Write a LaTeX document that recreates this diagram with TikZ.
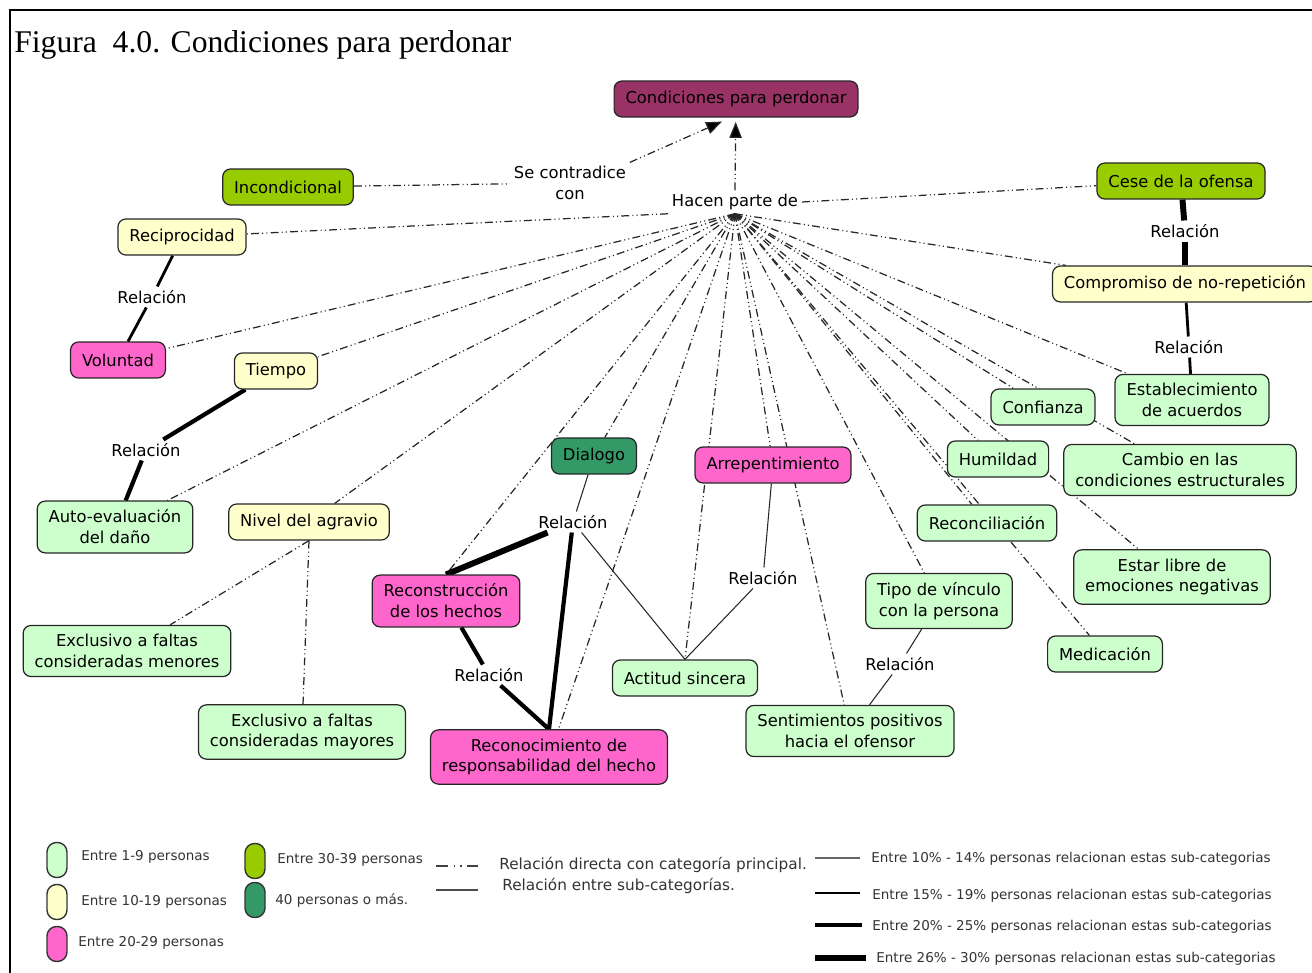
\documentclass[tikz,border=0pt]{standalone}
\usepackage{fontspec}
\setmainfont{Liberation Serif}
\newfontfamily\mapfont{DejaVu Sans}
\usetikzlibrary{arrows.meta,calc,backgrounds}

\definecolor{verdeclaro}{RGB}{204,255,204}
\definecolor{amarillo}{RGB}{255,255,204}
\definecolor{rosa}{RGB}{255,102,204}
\definecolor{lima}{RGB}{153,204,0}
\definecolor{verdeosc}{RGB}{51,153,102}
\definecolor{vino}{RGB}{153,51,102}

\begin{document}
\begin{tikzpicture}
[
  x=0.02cm, y=-0.02cm,
  concept/.style={rectangle, rounded corners=4.5pt, draw=black!85, line width=0.7pt,
    font=\mapfont\fontsize{9.3}{11.9}\selectfont, align=center,
    inner xsep=6.5pt, inner ysep=5pt, minimum height=0.72cm},
  uno/.style={concept, fill=verdeclaro},
  diez/.style={concept, fill=amarillo},
  veinte/.style={concept, fill=rosa},
  treinta/.style={concept, fill=lima},
  cuarenta/.style={concept, fill=verdeosc},
  rel/.style={font=\mapfont\fontsize{9.3}{11.9}\selectfont, align=center, inner sep=2pt},
  dd/.style={draw=black!85, line width=0.7pt,
    dash pattern=on 4.5pt off 1.8pt on 0.6pt off 1.8pt on 0.6pt off 1.8pt},
  w1/.style={draw=black!85, line width=0.6pt},
  w2/.style={draw=black, line width=1.6pt},
  w3/.style={draw=black, line width=2.4pt},
  w4/.style={draw=black, line width=3.4pt},
  pill/.style={rectangle, rounded corners=0.19cm, draw=black!80, line width=0.8pt,
    minimum width=0.4cm, minimum height=0.7cm},
  legtxt/.style={anchor=west, inner sep=0pt, text=black!80,
    font=\mapfont\fontsize{7.7}{9}\selectfont},
  legtxtb/.style={legtxt, font=\mapfont\fontsize{8.7}{10}\selectfont}
]
 \useasboundingbox (0,0) rectangle (1312,973);
 \draw[line width=1.1pt] (10,973) -- (10,10) -- (1312,10);

 \node[anchor=base west, inner sep=0pt, font=\fontsize{18}{22}\selectfont] (titulo) at (14,53)
   {Figura\ \ 4.0. Condiciones para perdonar};

 \node[concept, fill=vino] (cond) at (736,99) {Condiciones para perdonar};
 \node[rel, fill=white] (sc) at (570,183) {Se contradice\\con};
 \node[rel, fill=white] (hp) at (735,202) {Hacen parte de};

 \node[treinta] (incond) at (288,187) {Incondicional};
 \node[diez] (recip) at (182,237) {Reciprocidad};
 \node[veinte] (vol) at (118,360) {Voluntad};
 \node[diez] (tiempo) at (276,371) {Tiempo};
 \node[uno] (auto) at (115,527) {Auto-evaluación\\del daño};
 \node[diez] (nivel) at (309,522) {Nivel del agravio};
 \node[uno] (menores) at (127,651) {Exclusivo a faltas\\consideradas menores};
 \node[uno] (mayores) at (302,732) {Exclusivo a faltas\\consideradas mayores};
 \node[veinte] (recons) at (446,601) {Reconstrucción\\de los hechos};
 \node[veinte] (reconoc) at (549,757) {Reconocimiento de\\responsabilidad del hecho};
 \node[cuarenta] (dialogo) at (594,456) {Dialogo};
 \node[veinte] (arrep) at (773,465) {Arrepentimiento};
 \node[uno] (actitud) at (685,678) {Actitud sincera};
 \node[uno] (sentim) at (850,731) {Sentimientos positivos\\hacia el ofensor};
 \node[uno] (tipo) at (939,601) {Tipo de vínculo\\con la persona};
 \node[uno] (reconc) at (987,523) {Reconciliación};
 \node[uno] (humil) at (998,459) {Humildad};
 \node[uno] (confi) at (1043,407) {Confianza};
 \node[uno] (establ) at (1192,400) {Establecimiento\\de acuerdos};
 \node[uno] (cambio) at (1180,470) {Cambio en las\\condiciones estructurales};
 \node[uno] (libre) at (1172,577) {Estar libre de\\emociones negativas};
 \node[uno] (medic) at (1105,654) {Medicación};
 \node[diez] (comp) at (1185,284) {Compromiso de no-repetición};
 \node[treinta] (cese) at (1181,181) {Cese de la ofensa};

 \node[rel] (r1) at (1185,231) {Relación};
 \node[rel] (r2) at (1189,347) {Relación};
 \node[rel] (r3) at (152,297) {Relación};
 \node[rel] (r4) at (146,450) {Relación};
 \node[rel] (r5) at (573,522) {Relación};
 \node[rel] (r6) at (763,578) {Relación};
 \node[rel] (r7) at (489,675) {Relación};
 \node[rel] (r8) at (900,664) {Relación};

 \begin{scope}[on background layer]
  \path[dd, -{Triangle[length=9pt,width=7pt]}]
    (sc.north east) edge ($(cond.south)+(-14,4)$)
    (hp.north) edge [shorten >=2.5pt] (cond);
  \path[dd] (incond) edge (sc);
  \path[dd] (hp.east) edge (cese);
  \path[dd] (hp.south west) edge (recip);
  \path[dd] (hp.south)
    edge (vol) edge (tiempo) edge (auto) edge (nivel)
    edge (recons.north) edge (dialogo) edge (reconoc) edge (arrep)
    edge (actitud.north) edge (sentim) edge (tipo) edge (reconc)
    edge (medic) edge (humil) edge (confi) edge (cambio)
    edge (libre) edge (establ) edge (comp);
  \path[dd] (nivel.south) edge (menores) (nivel.south) edge (mayores);

  \path[w4] (cese) edge (r1) (r1) edge (comp);
  \path[w2] (comp) edge (r2) (r2) edge (establ);
  \path[w2] (recip) edge (r3) (r3) edge (vol);
  \path[w3] (tiempo) edge (r4) (r4) edge (auto);
  \path[w1] (dialogo) edge (r5) (r5) edge (actitud.north);
  \path[w4] (r5) edge (recons.north);
  \path[w3] (r5) edge (reconoc.north);
  \path[w3] (recons) edge (r7) (r7) edge (reconoc.north);
  \path[w1] (arrep) edge (r6) (r6) edge (actitud.north);
  \path[w1] (tipo) edge (r8) (r8) edge (sentim);
 \end{scope}

 \node[pill, fill=verdeclaro] (k1) at (57,860) {};
 \node[pill, fill=amarillo] (k2) at (57,902) {};
 \node[pill, fill=rosa] (k3) at (57,944) {};
 \node[pill, fill=lima] (k4) at (255,861) {};
 \node[pill, fill=verdeosc] (k5) at (255,900) {};
 \node[legtxt] (k1t) at (81,857) {Entre 1-9 personas};
 \node[legtxt] (k2t) at (81,902) {Entre 10-19 personas};
 \node[legtxt] (k3t) at (78,943) {Entre 20-29 personas};
 \node[legtxt] (k4t) at (277,860) {Entre 30-39 personas};
 \node[legtxt] (k5t) at (275,900) {40 personas o más.};

 \draw[draw=black!75, line width=0.7pt,
   dash pattern=on 7pt off 3pt on 0.8pt off 3pt on 0.8pt off 3pt] (436,866) -- (478,866);
 \draw[w1, black!70] (436,890) -- (478,890);
 \node[legtxtb] (l1t) at (499,865) {Relación directa con categoría principal.};
 \node[legtxtb] (l2t) at (502,886) {Relación entre sub-categorías.};

 \draw[w1, black!60] (815,858) -- (860,858);
 \draw[w2] (815,893) -- (860,893);
 \draw[w3] (815,925) -- (862,925);
 \draw[w4] (815,958) -- (866,958);
 \node[legtxt] (p1t) at (871,859) {Entre 10\% - 14\% personas relacionan estas sub-categorias};
 \node[legtxt] (p2t) at (872,896) {Entre 15\% - 19\% personas relacionan estas sub-categorias};
 \node[legtxt] (p3t) at (872,927) {Entre 20\% - 25\% personas relacionan estas sub-categorias};
 \node[legtxt] (p4t) at (876,959) {Entre 26\% - 30\% personas relacionan estas sub-categorias};
\end{tikzpicture}
\end{document}
